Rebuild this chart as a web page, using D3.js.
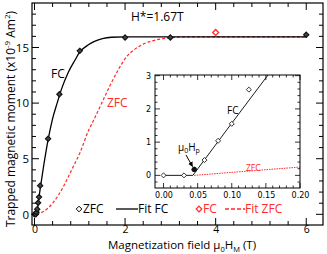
<!DOCTYPE html>
<html><head><meta charset="utf-8">
<script src="https://cdn.jsdelivr.net/npm/d3@7"></script>
<style>
body{margin:0;background:#fff;}
svg{display:block;font-family:"Open Sans",sans-serif;}
</style></head>
<body><svg id="c" width="327" height="254"></svg>
<script>
// ---- data ----
const fcField  = [0, 0.03, 0.045, 0.06, 0.08, 0.10, 0.125, 0.30, 0.55, 1.0, 2.0, 3.0, 6.0];
const fcMoment = [0, 0, 0.18, 0.46, 1.04, 1.55, 2.58, 6.8, 10.8, 14.7, 15.9, 15.9, 16.15];
const zfcField  = [4.0];
const zfcMoment = [16.35];
const fitFcField  = [0, 0.043, 0.10, 0.20, 0.30, 0.40, 0.50, 0.60, 0.75, 0.90, 1.0, 1.14, 1.30, 1.50, 1.70, 2.0, 6.0];
const fitFcMoment = [0, 0, 1.57, 4.3, 6.7, 8.6, 10.0, 11.3, 12.8, 13.9, 14.6, 15.1, 15.5, 15.8, 15.92, 15.95, 15.95];
const fitZfcField  = [0.045, 0.10, 0.20, 0.42, 0.64, 0.82, 1.0, 1.19, 1.31, 1.45, 1.67, 1.85, 2.04, 2.2, 2.4, 2.7, 3.0, 3.3, 6.0];
const fitZfcMoment = [0, 0.09, 0.25, 1.1, 2.5, 4.0, 5.5, 7.5, 8.5, 9.7, 11.6, 13.0, 14.2, 14.8, 15.3, 15.7, 15.87, 15.95, 15.95];
const hpField = [0.045];
const hpMoment = [0.18];
const mainXTicks = [0, 2, 4, 6];
const mainYTicks = [0, 5, 10, 15];
const insetXTicks = [0, 0.05, 0.10, 0.15, 0.20];
const insetYTicks = [0, 1, 2, 3];
const legendLabels = ["ZFC", "Fit FC", "FC", "Fit ZFC"];

const RED = "#ff2a2a";
const svg = d3.select("#c");
const zip = (a, b) => a.map((v, i) => [v, b[i]]);
const fcPts = zip(fcField, fcMoment);
const zfcPts = zip(zfcField, zfcMoment);
const fitFc = zip(fitFcField, fitFcMoment);
const fitZfc = zip(fitZfcField, fitZfcMoment);

// ---- main plot ----
const L = 32, R = 323, T = 3, B = 225;
const x = d3.scaleLinear().domain([-0.055, 6.37]).range([L, R]);
const y = d3.scaleLinear().domain([-0.96, 19]).range([B, T]);

function ticks(g, scale, vals, len, orient) {
  vals.forEach(v => {
    const p = scale(v);
    if (orient === 'b') g.append("line").attr("x1", p).attr("x2", p).attr("y1", B).attr("y2", B - len);
    if (orient === 't') g.append("line").attr("x1", p).attr("x2", p).attr("y1", T).attr("y2", T + len);
    if (orient === 'l') g.append("line").attr("y1", p).attr("y2", p).attr("x1", L).attr("x2", L + len);
    if (orient === 'r') g.append("line").attr("y1", p).attr("y2", p).attr("x1", R).attr("x2", R - len);
  });
}
const gm = svg.append("g").attr("stroke", "#000").attr("stroke-width", 1);
const xMinor = d3.range(0, 6.37, 0.4).filter(v => !mainXTicks.some(t => Math.abs(t - v) < 1e-6));
const yMinor = d3.range(0, 19, 1).filter(v => !mainYTicks.includes(v));
['b', 't'].forEach(o => { ticks(gm, x, mainXTicks, 7, o); ticks(gm, x, xMinor, 4, o); });
['l', 'r'].forEach(o => { ticks(gm, y, mainYTicks, 7, o); ticks(gm, y, yMinor, 4, o); });

svg.append("g").attr("transform", `translate(0,${B})`)
  .call(d3.axisBottom(x).tickValues(mainXTicks).tickSize(0).tickPadding(1).tickFormat(d3.format("d")))
  .call(g => { g.select(".domain").remove(); g.selectAll("text").attr("font-size", 10.5).attr("font-family", "Open Sans"); });
svg.append("g").attr("transform", `translate(${L},0)`)
  .call(d3.axisLeft(y).tickValues(mainYTicks).tickSize(0).tickPadding(3).tickFormat(d3.format("d")))
  .call(g => { g.select(".domain").remove(); g.selectAll("text").attr("font-size", 11.5).attr("font-family", "Open Sans"); });

const lineM = d3.line().x(d => x(d[0])).y(d => y(d[1])).curve(d3.curveMonotoneX);
svg.append("path").attr("d", lineM(fitZfc)).attr("fill", "none").attr("stroke", RED).attr("stroke-width", 1.2).attr("stroke-dasharray", "3,2");
svg.append("path").attr("d", lineM(fitFc)).attr("fill", "none").attr("stroke", "#000").attr("stroke-width", 1.3);

const diamond = d3.symbol().type(d3.symbolDiamond2);
svg.append("g").selectAll("path").data(fcPts).join("path")
  .attr("transform", d => `translate(${x(d[0])},${y(d[1])})`)
  .attr("d", diamond.size(18)()).attr("fill", "#444").attr("stroke", "#111").attr("stroke-width", 1.1);
svg.append("g").selectAll("path").data(zfcPts).join("path")
  .attr("transform", d => `translate(${x(d[0])},${y(d[1])})`)
  .attr("d", diamond.size(22)()).attr("fill", "#fff").attr("stroke", RED).attr("stroke-width", 1.3);

svg.append("rect").attr("x", L).attr("y", T).attr("width", R - L).attr("height", B - T)
  .attr("fill", "none").attr("stroke", "#000").attr("stroke-width", 1.2);

svg.append("text").attr("x", 131).attr("y", 21).attr("font-size", 12).text("H*=1.67T");
svg.append("text").attr("x", 51).attr("y", 78).attr("font-size", 12).text("FC");
svg.append("text").attr("x", 107).attr("y", 107).attr("font-size", 12).attr("fill", RED).text("ZFC");

const xt = svg.append("text").attr("x", 182).attr("y", 248.5).attr("text-anchor", "middle").attr("font-size", 11.5);
xt.append("tspan").text("Magnetization field \u03bc");
xt.append("tspan").attr("font-size", 7.5).attr("dy", 3).text("0");
xt.append("tspan").attr("dy", -3).text("H");
xt.append("tspan").attr("font-size", 7.5).attr("dy", 3).text("M");
xt.append("tspan").attr("dy", -3).text(" (T)");
const yt = svg.append("text").attr("transform", "translate(15,119) rotate(-90)").attr("text-anchor", "middle").attr("font-size", 12);
yt.append("tspan").text("Trapped magnetic moment (x10");
yt.append("tspan").attr("font-size", 8).attr("dy", -5).text("-9");
yt.append("tspan").attr("dy", 5).text(" Am");
yt.append("tspan").attr("font-size", 8).attr("dy", -5).text("2");
yt.append("tspan").attr("dy", 5).text(")");

const ly = 213;
svg.append("path").attr("transform", `translate(79,${ly - 4})`).attr("d", diamond.size(20)()).attr("fill", "#fff").attr("stroke", "#000").attr("stroke-width", 1);
svg.append("text").attr("x", 83).attr("y", ly).attr("font-size", 12).text(legendLabels[0]);
svg.append("line").attr("x1", 116).attr("x2", 138).attr("y1", ly - 4).attr("y2", ly - 4).attr("stroke", "#000").attr("stroke-width", 1.3);
svg.append("text").attr("x", 138).attr("y", ly).attr("font-size", 12).text(legendLabels[1]);
svg.append("path").attr("transform", `translate(199,${ly - 4})`).attr("d", diamond.size(20)()).attr("fill", "#fff").attr("stroke", RED).attr("stroke-width", 1.2);
svg.append("text").attr("x", 203).attr("y", ly).attr("font-size", 12).attr("fill", RED).text(legendLabels[2]);
svg.append("line").attr("x1", 225).attr("x2", 245).attr("y1", ly - 4).attr("y2", ly - 4).attr("stroke", RED).attr("stroke-width", 1.3).attr("stroke-dasharray", "4,2");
svg.append("text").attr("x", 245).attr("y", ly).attr("font-size", 12).attr("fill", RED).text(legendLabels[3]);

// ---- inset ----
const iL = 155, iR = 300, iT = 75, iB = 188;
const ix = d3.scaleLinear().domain([-0.0125, 0.2]).range([iL, iR]);
const iy = d3.scaleLinear().domain([-0.38, 3.02]).range([iB, iT]);
svg.append("rect").attr("x", iL).attr("y", iT).attr("width", iR - iL).attr("height", iB - iT).attr("fill", "#fff").attr("stroke", "none");
svg.append("clipPath").attr("id", "ic").append("rect").attr("x", iL).attr("y", iT).attr("width", iR - iL).attr("height", iB - iT);
const gi = svg.append("g").attr("stroke", "#000").attr("stroke-width", 0.8);
const ixMinor = d3.range(0, 0.2001, 0.01).filter(v => !insetXTicks.some(t => Math.abs(t - v) < 1e-6));
const iyMinor = d3.range(-0.2, 3.01, 0.2).filter(v => !insetYTicks.some(t => Math.abs(t - v) < 1e-6));
function iticks(vals, len, orient) {
  vals.forEach(v => {
    if (orient === 'b') { const p = ix(v); gi.append("line").attr("x1", p).attr("x2", p).attr("y1", iB).attr("y2", iB - len); }
    if (orient === 't') { const p = ix(v); gi.append("line").attr("x1", p).attr("x2", p).attr("y1", iT).attr("y2", iT + len); }
    if (orient === 'l') { const p = iy(v); gi.append("line").attr("y1", p).attr("y2", p).attr("x1", iL).attr("x2", iL + len); }
    if (orient === 'r') { const p = iy(v); gi.append("line").attr("y1", p).attr("y2", p).attr("x1", iR).attr("x2", iR - len); }
  });
}
['b', 't'].forEach(o => { iticks(insetXTicks, 5, o); iticks(ixMinor, 2.5, o); });
['l', 'r'].forEach(o => { iticks(insetYTicks, 5, o); iticks(iyMinor, 2.5, o); });
svg.append("g").attr("transform", `translate(0,${iB})`)
  .call(d3.axisBottom(ix).tickValues(insetXTicks).tickSize(0).tickPadding(4).tickFormat(d3.format(".2f")))
  .call(g => { g.select(".domain").remove(); g.selectAll("text").attr("font-size", 8).attr("font-family", "DejaVu Sans"); });
svg.append("g").attr("transform", `translate(${iL},0)`)
  .call(d3.axisLeft(iy).tickValues(insetYTicks).tickSize(0).tickPadding(4).tickFormat(d3.format("d")))
  .call(g => { g.select(".domain").remove(); g.selectAll("text").attr("font-size", 8).attr("font-family", "DejaVu Sans"); });

const lineI = d3.line().x(d => ix(d[0])).y(d => iy(d[1]));
const ig = svg.append("g").attr("clip-path", "url(#ic)");
ig.append("path").attr("d", lineI(fitZfc)).attr("fill", "none").attr("stroke", RED).attr("stroke-width", 1).attr("stroke-dasharray", "1.5,1");
ig.append("path").attr("d", lineI(fitFc)).attr("fill", "none").attr("stroke", "#000").attr("stroke-width", 0.9);
ig.selectAll(".pt").data(fcPts).join("path")
  .attr("transform", d => `translate(${ix(d[0])},${iy(d[1])})`)
  .attr("d", diamond.size(16)()).attr("fill", "#fff").attr("stroke", "#000").attr("stroke-width", 0.8);
ig.selectAll(".hp").data(zip(hpField, hpMoment)).join("circle")
  .attr("cx", d => ix(d[0])).attr("cy", d => iy(d[1])).attr("r", 2.6).attr("fill", "#111");
svg.append("rect").attr("x", iL).attr("y", iT).attr("width", iR - iL).attr("height", iB - iT).attr("fill", "none").attr("stroke", "#000").attr("stroke-width", 1);

svg.append("text").attr("x", 227).attr("y", 114).attr("font-size", 10).text("FC");
svg.append("text").attr("x", 246).attr("y", 171).attr("font-size", 8.5).attr("fill", RED).text("ZFC");
const hp = svg.append("text").attr("x", 178).attr("y", 151).attr("font-size", 10);
hp.append("tspan").text("\u03bc");
hp.append("tspan").attr("font-size", 7).attr("dy", 2).text("0");
hp.append("tspan").attr("dy", -2).text("H");
hp.append("tspan").attr("font-size", 7).attr("dy", 2).text("p");
svg.append("defs").append("marker").attr("id", "ah").attr("viewBox", "0 0 10 10").attr("refX", 9).attr("refY", 5)
  .attr("markerWidth", 5).attr("markerHeight", 5).attr("orient", "auto")
  .append("path").attr("d", "M0,0L10,5L0,10z").attr("fill", "#000");
svg.append("line").attr("x1", 186).attr("y1", 155).attr("x2", 192.5).attr("y2", 166.5).attr("stroke", "#000").attr("stroke-width", 1).attr("marker-end", "url(#ah)");
</script></body></html>
